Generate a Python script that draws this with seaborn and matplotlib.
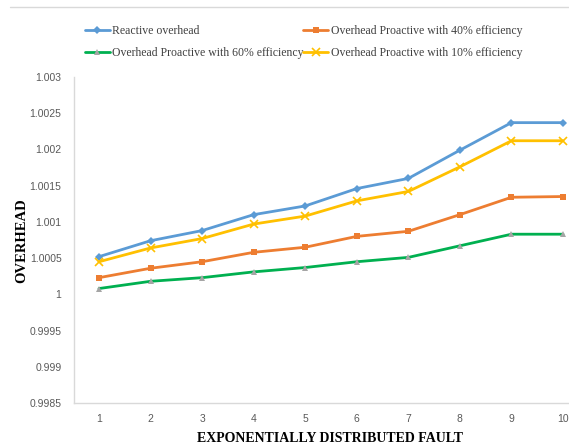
import pandas as pd
import matplotlib
matplotlib.use('Agg')
import matplotlib.pyplot as plt
import seaborn as sns
from matplotlib.lines import Line2D
from matplotlib.ticker import FixedLocator

# Data
faults = [1, 2, 3, 4, 5, 6, 7, 8, 9, 10]
reactive = [1.00052, 1.00074, 1.00088, 1.00110, 1.00122, 1.00146, 1.00160, 1.00199, 1.00237, 1.00237]
proactive_40 = [1.00023, 1.00036, 1.00045, 1.00058, 1.00065, 1.00080, 1.00087, 1.00110, 1.00134, 1.00135]
proactive_60 = [1.00008, 1.00018, 1.00023, 1.00031, 1.00037, 1.00045, 1.00051, 1.00067, 1.00083, 1.00083]
proactive_10 = [1.00045, 1.00064, 1.00077, 1.00097, 1.00108, 1.00129, 1.00142, 1.00176, 1.00212, 1.00212]
y_ticks = [0.9985, 0.999, 0.9995, 1.0, 1.0005, 1.001, 1.0015, 1.002, 1.0025, 1.003]
y_tick_labels = ['0.9985', '0.999', '0.9995', '1', '1.0005', '1.001', '1.0015', '1.002', '1.0025', '1.003']

sns.set_style('white')
plt.rcParams['font.family'] = ['Liberation Serif', 'DejaVu Serif']

fig = plt.figure(figsize=(5.69, 4.48), dpi=100)
ax = fig.add_axes([74 / 569, 1 - 403 / 448, 495 / 569, 326 / 448])

series = [
    ('Reactive overhead', reactive, '#5B9BD5', 'D', '#5B9BD5', 4),
    ('Overhead Proactive with 60% efficiency', proactive_60, '#00B050', '^', '#A5A5A5', 5),
    ('Overhead Proactive with 40% efficiency', proactive_40, '#ED7D31', 's', '#ED7D31', 5),
    ('Overhead Proactive with 10% efficiency', proactive_10, '#FFC000', 'x', '#FFC000', 6),
]

handles = []
for name, vals, color, marker, mcolor, msize in series:
    df = pd.DataFrame({'fault': faults, 'overhead': vals})
    sns.lineplot(data=df, x='fault', y='overhead', ax=ax, color=color, linewidth=2,
                 marker=marker, markersize=msize, markerfacecolor=mcolor,
                 markeredgecolor=mcolor, markeredgewidth=1.2 if marker == 'x' else 0)
    handles.append(Line2D([], [], color=color, linewidth=2, marker=marker,
                          markersize=msize, markerfacecolor=mcolor, markeredgecolor=mcolor,
                          markeredgewidth=1.2 if marker == 'x' else 0, label=name))

ax.set_xlim(0.515, 10.116)
ax.set_ylim(0.9985, 1.003)
ax.set_xticks(faults)
ax.set_xticklabels([str(f) for f in faults], family='Liberation Sans', fontsize=7.5, color='#595959')
ax.yaxis.set_major_locator(FixedLocator(y_ticks))
ax.set_yticklabels(y_tick_labels, family='Liberation Sans', fontsize=7.5, color='#595959')
ax.tick_params(axis='x', length=0, pad=8)
ax.tick_params(axis='y', length=0, pad=9)

for side in ['top', 'right']:
    ax.spines[side].set_visible(False)
for side in ['left', 'bottom']:
    ax.spines[side].set_color('#D9D9D9')
    ax.spines[side].set_linewidth(1)

ax.set_xlabel('')
ax.set_ylabel('')
fig.text(330 / 569, 1 - 438 / 448, 'EXPONENTIALLY DISTRIBUTED FAULT', ha='center', va='center',
         fontsize=10, fontweight='bold', color='black')
fig.text(22 / 569, 1 - 241 / 448, 'OVERHEAD', ha='center', va='center', rotation=90,
         fontsize=10.5, fontweight='bold', color='black')

leg = fig.legend(handles=handles, ncol=2, loc='upper left', bbox_to_anchor=(80 / 569, 1 - 20 / 448),
                 frameon=False, fontsize=8.5, handlelength=2.1, handletextpad=0.2,
                 columnspacing=0.0, labelspacing=0.85, borderaxespad=0)
for t in leg.get_texts():
    t.set_color('#404040')

fig.add_artist(Line2D([10 / 569, 1], [1 - 7 / 448, 1 - 7 / 448], transform=fig.transFigure,
                      color='#D9D9D9', linewidth=1))

fig.savefig('out.png', dpi=100)
